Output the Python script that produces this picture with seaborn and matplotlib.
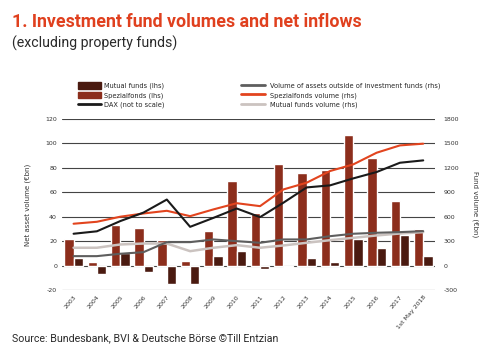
import numpy as np
import pandas as pd
import matplotlib
matplotlib.use("Agg")
import matplotlib.pyplot as plt
import seaborn as sns
from matplotlib.patches import Patch
from matplotlib.lines import Line2D

years = ['2003', '2004', '2005', '2006', '2007', '2008', '2009', '2010', '2011',
         '2012', '2013', '2014', '2015', '2016', '2017', '1st May 2018']

# net inflows, lhs (EUR bn)
spezial_inflow = [22, 3, 33, 31, 21, 4, 28, 69, 43, 83, 76, 78, 107, 88, 53, 30]
mutual_inflow = [6, -7, 10, -5, -15, -15, 8, 12, -3, -1, 6, 3, 22, 14, 25, 8]

# volumes, rhs (EUR bn)
dax = [390, 420, 545, 650, 810, 475, 585, 700, 594, 771, 959, 984, 1070, 1148, 1262, 1291]
spezial_volume = [513, 537, 599, 639, 672, 606, 689, 765, 729, 934, 1017, 1160, 1242, 1385, 1475, 1496]
outside_volume = [115, 115, 144, 164, 287, 287, 320, 299, 279, 320, 320, 360, 390, 402, 410, 422]
mutual_volume = [218, 218, 258, 270, 270, 176, 218, 250, 218, 246, 279, 311, 340, 369, 393, 410]

c_spez = '#8c2e1c'
c_mut = '#4a1a10'
c_orange = '#e2441e'
c_dax = '#1a1a1a'
c_dgray = '#5e5e5e'
c_lgray = '#cbc3c0'

sns.set_style("white")
plt.rcParams['font.family'] = ['Liberation Sans Narrow', 'DejaVu Sans']
plt.rcParams['axes.unicode_minus'] = False

bars = pd.DataFrame({
    'year': years * 2,
    'value': spezial_inflow + mutual_inflow,
    'kind': ['Spezialfonds'] * len(years) + ['Mutual funds'] * len(years),
})

fig = plt.figure(figsize=(4.8, 3.54), dpi=100)
ax = fig.add_axes([0.129, 0.181, 0.777, 0.483])

sns.barplot(data=bars, x='year', y='value', hue='kind', order=years,
            hue_order=['Spezialfonds', 'Mutual funds'],
            palette=[c_spez, c_mut], width=0.8, saturation=1, legend=False, ax=ax)
ax.set_ylim(-20, 120)
ax.set_yticks(range(-20, 121, 20))
ax.set_xlim(-0.5, len(years) - 0.5)
ax.grid(axis='y', color='#444444', linewidth=0.8)
ax.set_axisbelow(True)
for s in ax.spines.values():
    s.set_visible(False)
ax.tick_params(length=0, labelsize=4.5, colors='#333333')
ax.set_xticks(range(len(years)))
ax.set_xticklabels(years, rotation=50, ha='right', rotation_mode='anchor', fontsize=4.5)
ax.set_xlabel('')
ax.set_ylabel('Net asset volume (€bn)', fontsize=5, color='#333333', labelpad=10)

ax2 = ax.twinx()
x = np.arange(len(years))
sns.lineplot(x=x, y=spezial_volume, color=c_orange, linewidth=1.5, ax=ax2)
sns.lineplot(x=x, y=dax, color=c_dax, linewidth=1.5, ax=ax2)
sns.lineplot(x=x, y=mutual_volume, color=c_lgray, linewidth=1.8, ax=ax2)
sns.lineplot(x=x, y=outside_volume, color=c_dgray, linewidth=1.5, ax=ax2)
ax2.set_ylim(-300, 1800)
ax2.set_yticks(range(-300, 1801, 300))
for s in ax2.spines.values():
    s.set_visible(False)
ax2.tick_params(length=0, labelsize=4.5, colors='#333333', pad=6)
ax2.set_ylabel('Fund volume (€bn)', fontsize=5, color='#333333', rotation=270, labelpad=14)

h_left = [Patch(color=c_mut), Patch(color=c_spez), Line2D([], [], color=c_dax, lw=2)]
l_left = ['Mutual funds (lhs)', 'Spezialfonds (lhs)', 'DAX (not to scale)']
fig.legend(h_left, l_left, loc='upper left', bbox_to_anchor=(0.15, 0.785),
           frameon=False, fontsize=4.8, handlelength=3.5, handleheight=1.2,
           labelspacing=0.35, handletextpad=0.4)
h_right = [Line2D([], [], color=c_dgray, lw=2), Line2D([], [], color=c_orange, lw=2),
           Line2D([], [], color=c_lgray, lw=2)]
l_right = ['Volume of assets outside of investment funds (rhs)',
           'Spezialfonds volume (rhs)', 'Mutual funds volume (rhs)']
fig.legend(h_right, l_right, loc='upper left', bbox_to_anchor=(0.49, 0.785),
           frameon=False, fontsize=4.8, handlelength=3.5, handleheight=1.2,
           labelspacing=0.35, handletextpad=0.8)

fig.text(0.025, 0.925, '1. Investment fund volumes and net inflows', color='#e0401e',
         fontsize=12.8, fontweight='bold', family=['Roboto', 'DejaVu Sans'])
fig.text(0.025, 0.865, '(excluding property funds)', color='#2a2a2a',
         fontsize=10.2, family=['Roboto', 'DejaVu Sans'])
fig.text(0.025, 0.035, 'Source: Bundesbank, BVI & Deutsche Börse ©Till Entzian', color='#2a2a2a',
         fontsize=7.7, family=['Roboto', 'DejaVu Sans'])

fig.savefig('out.png', dpi=100)
